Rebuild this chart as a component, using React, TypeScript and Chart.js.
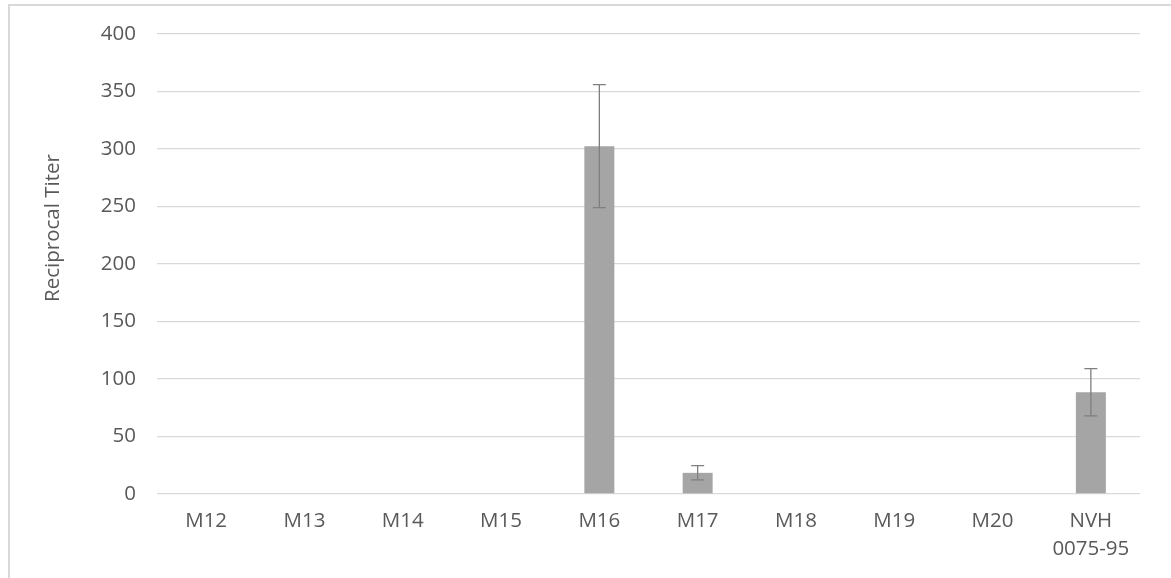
import React, { useEffect, useRef } from "react";
import { Chart, registerables } from "chart.js";

Chart.register(...registerables);

const categories: (string | string[])[] = ["M12", "M13", "M14", "M15", "M16", "M17", "M18", "M19", "M20", ["NVH", "0075-95"]];
const titerValues = [0, 0, 0, 0, 302.5, 18.4, 0, 0, 0, 88.5];
const titerErrors = [0, 0, 0, 0, 53.5, 6.2, 0, 0, 0, 20.6];
const yTicks = [0, 50, 100, 150, 200, 250, 300, 350, 400];
const yTitle = "Reciprocal Titer";

const FONT = "'Open Sans', 'Liberation Sans', sans-serif";
const FONT_SIZE = 20.5;
const TEXT_COLOR = "#595959";

const errorBarPlugin = {
  id: "errorBars",
  afterDatasetsDraw(chart: any) {
    const { ctx } = chart;
    const meta = chart.getDatasetMeta(0);
    const yScale = chart.scales.y;
    ctx.save();
    ctx.strokeStyle = "#7f7f7f";
    ctx.lineWidth = 1.3;
    meta.data.forEach((bar: any, i: number) => {
      const err = titerErrors[i];
      if (!err) return;
      const v = titerValues[i];
      const x = bar.x;
      const yTop = yScale.getPixelForValue(v + err);
      const yBot = yScale.getPixelForValue(v - err);
      const cap = 6.5;
      ctx.beginPath();
      ctx.moveTo(x, yTop);
      ctx.lineTo(x, yBot);
      ctx.moveTo(x - cap, yTop);
      ctx.lineTo(x + cap, yTop);
      ctx.moveTo(x - cap, yBot);
      ctx.lineTo(x + cap, yBot);
      ctx.stroke();
    });
    ctx.restore();
  },
};

const yTitlePlugin = {
  id: "yTitle",
  afterDraw(chart: any) {
    const { ctx, chartArea } = chart;
    ctx.save();
    ctx.fillStyle = TEXT_COLOR;
    ctx.font = `${FONT_SIZE}px ${FONT}`;
    ctx.textAlign = "center";
    ctx.textBaseline = "middle";
    ctx.translate(chartArea.left - 104, chartArea.top + 194);
    ctx.rotate(-Math.PI / 2);
    ctx.fillText(yTitle, 0, 0);
    ctx.restore();
  },
};

export default function App() {
  const canvasRef = useRef<HTMLCanvasElement | null>(null);

  useEffect(() => {
    if (!canvasRef.current) return;
    const chart = new Chart(canvasRef.current, {
      type: "bar",
      data: {
        labels: categories,
        datasets: [
          {
            data: titerValues,
            backgroundColor: "#a5a5a5",
            borderWidth: 0,
            categoryPercentage: 1,
            barPercentage: 0.305,
          },
        ],
      },
      options: {
        animation: false,
        responsive: false,
        maintainAspectRatio: false,
        layout: { padding: { top: 34, right: 31, bottom: 0, left: 0 } },
        plugins: {
          legend: { display: false },
          tooltip: { enabled: false },
        },
        scales: {
          x: {
            grid: { display: false, drawTicks: false },
            border: { display: false },
            ticks: {
              color: TEXT_COLOR,
              font: { family: FONT, size: FONT_SIZE, lineHeight: 1.37 },
              padding: 13,
              maxRotation: 0,
              autoSkip: false,
            },
            afterFit: (s: any) => {
              s.height = 84;
            },
          },
          y: {
            min: 0,
            max: 400,
            afterBuildTicks: (s: any) => {
              s.ticks = yTicks.map((v) => ({ value: v }));
            },
            grid: { color: "#d9d9d9", lineWidth: 1.3, drawTicks: false },
            border: { display: false },
            ticks: {
              color: TEXT_COLOR,
              font: { family: FONT, size: FONT_SIZE },
              padding: 21,
            },
            afterFit: (s: any) => {
              s.width = 157;
            },
          },
        },
      },
      plugins: [errorBarPlugin, yTitlePlugin],
    });
    return () => chart.destroy();
  }, []);

  return (
    <div style={{ position: "fixed", left: 0, top: 0, width: 1171, height: 578, background: "#fff", overflow: "hidden" }}>
      <div
        style={{
          position: "absolute",
          left: 8,
          top: 4,
          width: 1200,
          height: 600,
          borderLeft: "2px solid #d9d9d9",
          borderTop: "2px solid #d9d9d9",
        }}
      />
      <canvas ref={canvasRef} width={1171} height={578} style={{ position: "absolute", left: 0, top: 0 }} />
    </div>
  );
}
